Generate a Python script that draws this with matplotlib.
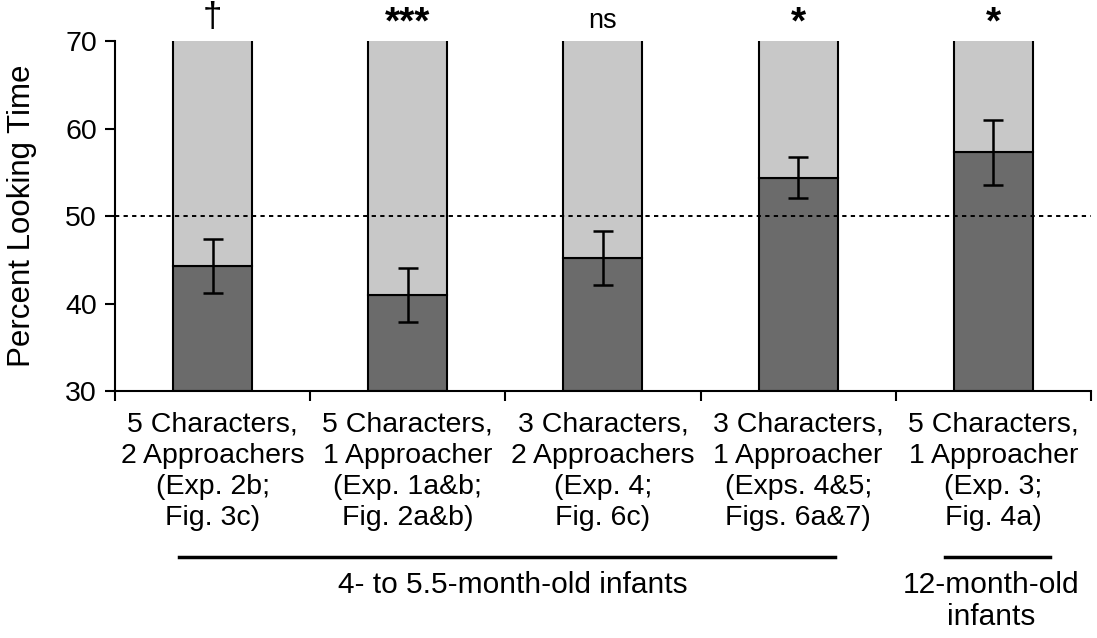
import matplotlib.pyplot as plt
from matplotlib.transforms import blended_transform_factory

plt.rcParams['font.family'] = ['Liberation Sans', 'DejaVu Sans']

# -----------------------------
# Data
# -----------------------------
conditions = [
    "5 Characters,\n2 Approachers\n(Exp. 2b;\nFig. 3c)",
    "5 Characters,\n1 Approacher\n(Exp. 1a&b;\nFig. 2a&b)",
    "3 Characters,\n2 Approachers\n(Exp. 4;\nFig. 6c)",
    "3 Characters,\n1 Approacher\n(Exps. 4&5;\nFigs. 6a&7)",
    "5 Characters,\n1 Approacher\n(Exp. 3;\nFig. 4a)",
]
looking = [44.3, 41.0, 45.2, 54.4, 57.3]
errors = [3.1, 3.1, 3.05, 2.35, 3.7]
signif = ["\u2020", "***", "ns", "*", "*"]
chance = 50
age_groups = ["4- to 5.5-month-old infants", "12-month-old\ninfants"]

# -----------------------------
# Figure
# -----------------------------
fig = plt.figure(figsize=(10.97, 6.38), dpi=100)
ax = fig.add_axes([0.1048, 0.3871, 0.8897, 0.5486])

ymin, ymax = 30, 70
x = list(range(len(looking)))
width = 0.405

ax.bar(x, [v - ymin for v in looking], bottom=ymin, width=width,
       color="#6b6b6b", edgecolor="black", linewidth=1.5, zorder=2)
ax.bar(x, [ymax + 5 - v for v in looking], bottom=looking, width=width,
       color="#c8c8c8", edgecolor="black", linewidth=1.5, zorder=2)
ax.errorbar(x, looking, yerr=errors, fmt="none", ecolor="black",
            elinewidth=1.8, capsize=7, capthick=1.8, zorder=4)
ax.axhline(chance, color="black", linestyle=(0, (2.2, 2.2)), linewidth=1.4,
           zorder=5)

ax.set_ylim(ymin, ymax)
ax.set_xlim(-0.5, len(looking) - 0.5)
ax.set_yticks([30, 40, 50, 60, 70])
ax.set_ylabel("Percent Looking Time", fontsize=22.5, labelpad=20)

# boundary ticks on the x axis, labels at the bar centres
ax.set_xticks([i - 0.5 for i in range(len(looking) + 1)])
ax.set_xticklabels([])
ax.set_xticks(x, minor=True)
ax.set_xticklabels(conditions, minor=True, fontsize=20.5, linespacing=1.25)
ax.tick_params(axis="x", which="minor", length=0, pad=15)
ax.tick_params(axis="x", which="major", length=7, width=1.5, direction="out")
ax.tick_params(axis="y", labelsize=20.5, length=7, width=1.5, pad=6)

for side in ["top", "right"]:
    ax.spines[side].set_visible(False)
for side in ["left", "bottom"]:
    ax.spines[side].set_linewidth(1.5)

# significance markers
trans = blended_transform_factory(ax.transData, ax.transAxes)
for i, s in enumerate(signif):
    if "*" in s:
        ax.text(i, 1.05, s, transform=trans, ha="center", va="center",
                fontsize=28, fontweight="bold")
    elif s == "ns":
        ax.text(i, 1.058, s, transform=trans, ha="center", va="center",
                fontsize=19.5)
    else:
        ax.text(i, 1.068, s, transform=trans, ha="center", va="center",
                fontsize=25)

# age group brackets
spans = [(-0.17, 3.19), (3.75, 4.29)]
label_x = [1.54, 3.99]
for label, lx, (x0, x1) in zip(age_groups, label_x, spans):
    ax.plot([x0, x1], [-0.474, -0.474], color="black", linewidth=2.5,
            transform=trans, clip_on=False)
    ax.text(lx, -0.515, label, transform=trans, ha="center",
            va="top", fontsize=21.5, linespacing=1.15)

fig.savefig("out.png", dpi=100)
